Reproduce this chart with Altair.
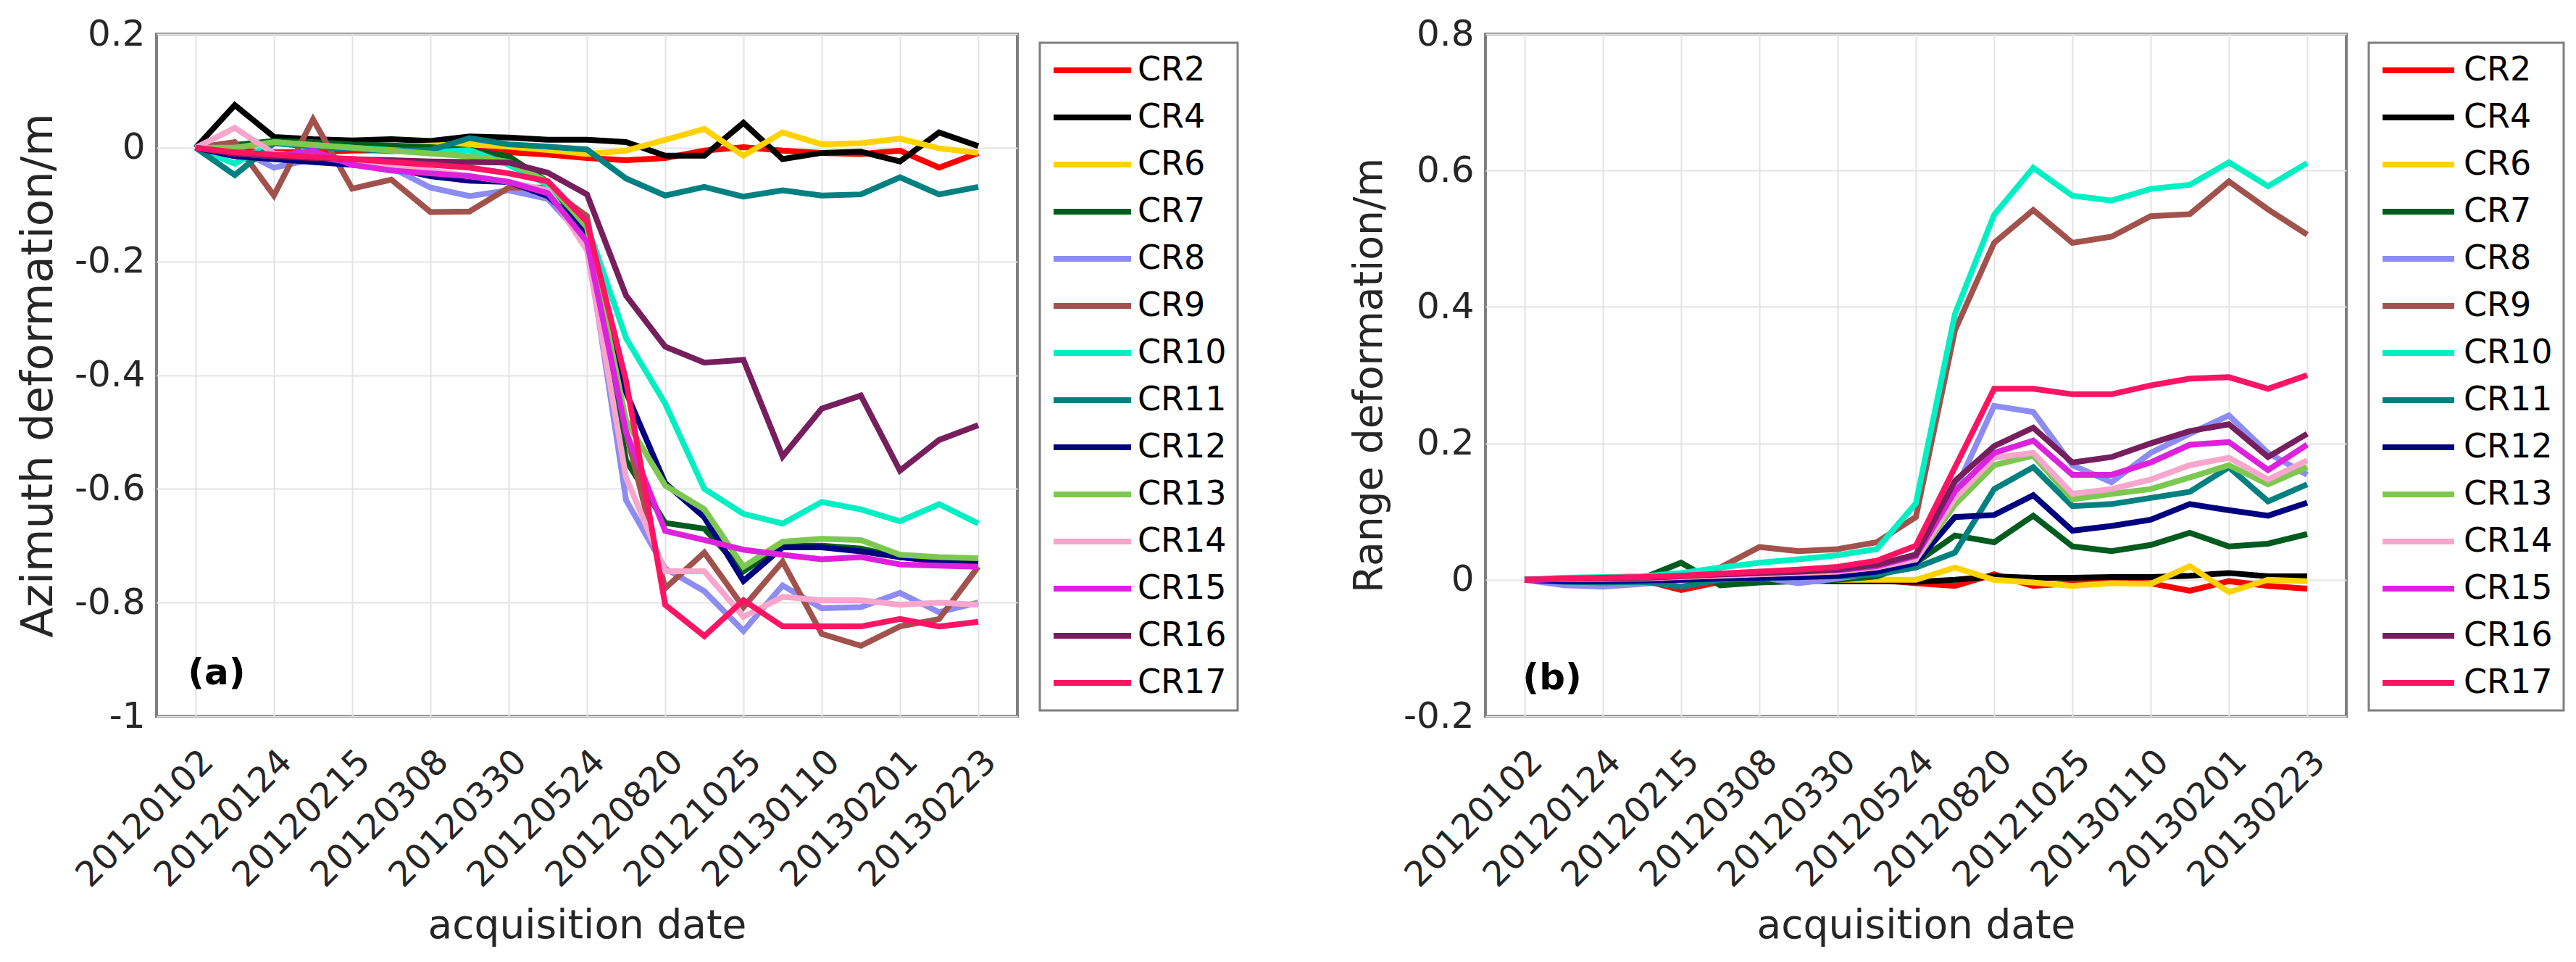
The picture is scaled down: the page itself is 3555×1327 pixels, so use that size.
import json
import altair as alt
import pandas as pd

# ---------------- data ----------------
date_labels = ["20120102", "20120124", "20120215", "20120308", "20120330", "20120524",
               "20120820", "20121025", "20130110", "20130201", "20130223"]
series_names = ["CR2", "CR4", "CR6", "CR7", "CR8", "CR9", "CR10", "CR11", "CR12",
                "CR13", "CR14", "CR15", "CR16", "CR17"]
series_colors = ["#FF0000", "#000000", "#FFD200", "#005C1E", "#8C8CF2", "#A2524C",
                 "#00F0C4", "#008080", "#000080", "#7CC850", "#F8A6CC", "#DD22DD",
                 "#761E5E", "#FF1464"]
panel_tags = ["(a)", "(b)"]

# (a) azimuth deformation, 21 acquisitions
az_cr2 = [0, -0.005, -0.008, -0.008, -0.005, -0.004, 0.0, -0.004, -0.008, -0.012, -0.018, -0.022, -0.018, -0.005, 0.001, -0.005, -0.009, -0.011, -0.005, -0.035, -0.009]
az_cr4 = [0, 0.075, 0.019, 0.015, 0.013, 0.015, 0.012, 0.02, 0.018, 0.014, 0.014, 0.01, -0.014, -0.014, 0.044, -0.02, -0.009, -0.007, -0.024, 0.027, 0.003]
az_cr6 = [0, 0.004, 0.008, 0.005, 0.004, 0.002, 0.004, 0.006, 0.002, -0.004, -0.011, -0.005, 0.014, 0.033, -0.014, 0.027, 0.006, 0.008, 0.016, -0.001, -0.009]
az_cr7 = [0, 0.005, 0.012, 0.01, 0.006, 0.004, 0.001, -0.004, -0.015, -0.06, -0.15, -0.55, -0.66, -0.67, -0.745, -0.70, -0.70, -0.705, -0.72, -0.725, -0.73]
az_cr8 = [0, 0.0, -0.035, -0.02, -0.03, -0.035, -0.07, -0.085, -0.075, -0.09, -0.165, -0.62, -0.74, -0.78, -0.85, -0.77, -0.81, -0.808, -0.783, -0.817, -0.80]
az_cr9 = [0, 0.01, -0.084, 0.05, -0.072, -0.056, -0.113, -0.112, -0.07, -0.07, -0.12, -0.5, -0.775, -0.712, -0.808, -0.728, -0.855, -0.876, -0.842, -0.829, -0.737]
az_cr10 = [0, -0.028, 0.01, 0.005, 0.0, -0.004, -0.008, -0.004, -0.03, -0.065, -0.135, -0.335, -0.45, -0.6, -0.644, -0.661, -0.623, -0.636, -0.657, -0.627, -0.661]
az_cr11 = [0, -0.048, 0.008, 0.002, -0.002, -0.006, -0.004, 0.017, 0.006, 0.002, -0.003, -0.054, -0.084, -0.069, -0.086, -0.075, -0.084, -0.082, -0.052, -0.082, -0.069]
az_cr12 = [0, -0.015, -0.02, -0.025, -0.03, -0.035, -0.05, -0.058, -0.06, -0.085, -0.147, -0.43, -0.59, -0.65, -0.762, -0.703, -0.703, -0.71, -0.72, -0.728, -0.728]
az_cr13 = [0, 0.0, 0.01, 0.005, 0.0, -0.005, -0.01, -0.015, -0.025, -0.06, -0.14, -0.48, -0.594, -0.636, -0.737, -0.693, -0.688, -0.69, -0.716, -0.72, -0.722]
az_cr14 = [0, 0.035, -0.01, -0.015, -0.025, -0.03, -0.04, -0.05, -0.06, -0.075, -0.18, -0.58, -0.745, -0.745, -0.825, -0.79, -0.796, -0.796, -0.804, -0.8, -0.804]
az_cr15 = [0, -0.01, -0.015, -0.005, -0.03, -0.04, -0.045, -0.05, -0.06, -0.08, -0.165, -0.5, -0.674, -0.69, -0.707, -0.716, -0.724, -0.72, -0.733, -0.735, -0.737]
az_cr16 = [0, -0.01, -0.015, -0.018, -0.02, -0.022, -0.024, -0.025, -0.026, -0.044, -0.082, -0.26, -0.35, -0.378, -0.373, -0.543, -0.459, -0.436, -0.568, -0.514, -0.488]
az_cr17 = [0, -0.008, -0.012, -0.016, -0.02, -0.025, -0.03, -0.035, -0.045, -0.059, -0.13, -0.41, -0.804, -0.859, -0.796, -0.842, -0.842, -0.842, -0.829, -0.842, -0.834]

# (b) range deformation
rg_cr2 = [0, 0.0, 0.001, 0.0, -0.015, -0.003, 0.0, -0.002, -0.001, 0.0, -0.005, -0.009, 0.008, -0.009, -0.005, -0.003, -0.005, -0.016, -0.002, -0.009, -0.013]
rg_cr4 = [0, 0.0, 0.0, 0.0, 0.0, 0.0, 0.0, -0.001, -0.002, -0.002, -0.003, 0.0, 0.005, 0.003, 0.003, 0.004, 0.004, 0.006, 0.01, 0.005, 0.005]
rg_cr6 = [0, 0.0, 0.001, 0.0, 0.0, 0.001, 0.0, 0.0, 0.0, 0.0, 0.0, 0.018, 0.0, -0.004, -0.009, -0.005, -0.006, 0.02, -0.018, 0.0, -0.002]
rg_cr7 = [0, 0.0, 0.0, 0.002, 0.025, -0.008, -0.004, -0.002, 0.0, 0.005, 0.025, 0.065, 0.055, 0.094, 0.049, 0.042, 0.051, 0.069, 0.049, 0.053, 0.067]
rg_cr8 = [0, -0.008, -0.01, -0.006, 0.0, 0.002, 0.004, -0.005, 0.002, 0.01, 0.03, 0.13, 0.255, 0.246, 0.168, 0.143, 0.186, 0.214, 0.241, 0.186, 0.154]
rg_cr9 = [0, 0.002, 0.002, 0.003, 0.006, 0.018, 0.048, 0.042, 0.045, 0.055, 0.092, 0.366, 0.494, 0.542, 0.494, 0.503, 0.533, 0.536, 0.584, 0.543, 0.506]
rg_cr10 = [0, 0.003, 0.004, 0.005, 0.01, 0.018, 0.025, 0.03, 0.036, 0.045, 0.112, 0.39, 0.535, 0.604, 0.563, 0.556, 0.573, 0.579, 0.612, 0.577, 0.611]
rg_cr11 = [0, -0.003, -0.004, -0.003, -0.01, 0.0, 0.002, 0.004, 0.005, 0.008, 0.018, 0.04, 0.133, 0.165, 0.108, 0.111, 0.12, 0.129, 0.165, 0.115, 0.14]
rg_cr12 = [0, -0.002, -0.002, -0.001, 0.0, 0.002, 0.003, 0.004, 0.006, 0.012, 0.025, 0.092, 0.095, 0.124, 0.072, 0.079, 0.088, 0.111, 0.102, 0.094, 0.113]
rg_cr13 = [0, 0.002, 0.003, 0.004, 0.006, 0.008, 0.01, 0.012, 0.014, 0.02, 0.03, 0.11, 0.168, 0.182, 0.118, 0.126, 0.133, 0.15, 0.168, 0.14, 0.165]
rg_cr14 = [0, 0.001, 0.001, 0.002, 0.004, 0.006, 0.008, 0.01, 0.012, 0.018, 0.03, 0.12, 0.179, 0.186, 0.126, 0.133, 0.147, 0.168, 0.179, 0.147, 0.175]
rg_cr15 = [0, 0.001, 0.002, 0.003, 0.006, 0.008, 0.01, 0.012, 0.014, 0.02, 0.035, 0.13, 0.186, 0.204, 0.154, 0.154, 0.172, 0.198, 0.202, 0.161, 0.198]
rg_cr16 = [0, 0.002, 0.002, 0.003, 0.005, 0.008, 0.01, 0.012, 0.015, 0.022, 0.037, 0.145, 0.196, 0.223, 0.172, 0.18, 0.2, 0.218, 0.228, 0.18, 0.214]
rg_cr17 = [0, 0.002, 0.003, 0.004, 0.006, 0.009, 0.012, 0.015, 0.019, 0.028, 0.05, 0.165, 0.28, 0.28, 0.272, 0.272, 0.285, 0.295, 0.297, 0.28, 0.3]

azimuth = [az_cr2, az_cr4, az_cr6, az_cr7, az_cr8, az_cr9, az_cr10, az_cr11, az_cr12,
           az_cr13, az_cr14, az_cr15, az_cr16, az_cr17]
range_def = [rg_cr2, rg_cr4, rg_cr6, rg_cr7, rg_cr8, rg_cr9, rg_cr10, rg_cr11, rg_cr12,
             rg_cr13, rg_cr14, rg_cr15, rg_cr16, rg_cr17]


def long_df(arrays):
    rows = []
    for k, (name, vals) in enumerate(zip(series_names, arrays)):
        for i, v in enumerate(vals):
            rows.append({"idx": i, "value": v, "series": name, "k": k})
    return pd.DataFrame(rows)


FONT = "DejaVu Sans"
TXT = "#262626"
label_expr_x = json.dumps(date_labels) + "[round(datum.value/2)]"
label_expr_y = ("replace((datum.value < -1e-9 ? '-' : '') + "
                "format(abs(datum.value), '.1f'), '.0', '')")

PW, PH = 1188, 941


def panel(df, ytitle, ytitle_size, ydomain, yvals, tag, tag_x, tag_y, sym_len, lab_off):
    x = alt.X("idx:Q",
              scale=alt.Scale(domain=[-1, 21], nice=False, zero=False),
              axis=alt.Axis(values=list(range(0, 21, 2)), labelExpr=label_expr_x,
                            labelAngle=-45, labelAlign="right", labelBaseline="top",
                            labelPadding=38, labelFontSize=48, labelLimit=0,
                            title="acquisition date", titleFontSize=55,
                            titleY=262, titleBaseline="top",
                            grid=True, ticks=False, domain=False,
                            labelOverlap=False))
    y = alt.Y("value:Q",
              scale=alt.Scale(domain=ydomain, nice=False, zero=False),
              axis=alt.Axis(values=yvals, labelExpr=label_expr_y, title=ytitle,
                            titleFontSize=ytitle_size,
                            labelPadding=16, titlePadding=18, grid=True, ticks=False,
                            domain=False, labelFontSize=50))
    color = alt.Color("series:N",
                      scale=alt.Scale(domain=series_names, range=series_colors),
                      sort=series_names,
                      legend=alt.Legend(title=None, orient="none", legendX=1219,
                                        legendY=12, symbolType="stroke",
                                        symbolSize=sym_len * sym_len,
                                        symbolStrokeWidth=8, labelFont=FONT,
                                        labelFontSize=46, labelColor="#000000",
                                        strokeColor="#7F7F7F", fillColor="#FFFFFF",
                                        padding=15, rowPadding=19, clipHeight=46,
                                        labelOffset=lab_off, symbolLimit=0,
                                        labelLimit=0))
    lines = alt.Chart(df).mark_line(strokeWidth=8, strokeJoin="miter").encode(
        x=x, y=y, color=color, order=alt.Order("idx:Q"))
    tag_df = pd.DataFrame({"idx": [tag_x], "value": [tag_y], "t": [tag]})
    text = alt.Chart(tag_df).mark_text(font=FONT, fontSize=50, fontWeight="bold",
                                       align="left", baseline="middle",
                                       color="#000000").encode(
        x="idx:Q", y="value:Q", text="t:N")
    return alt.layer(lines, text).properties(width=PW, height=PH)


chart_a = panel(long_df(azimuth), "Azimuth deformation/m", 61, [-1, 0.2],
                [-1, -0.8, -0.6, -0.4, -0.2, 0, 0.2], panel_tags[0], -0.2, -0.925,
                107, 5)
chart_b = panel(long_df(range_def), "Range deformation/m", 55, [-0.2, 0.8],
                [-0.2, 0, 0.2, 0.4, 0.6, 0.8], panel_tags[1], -0.05, -0.145,
                99, 9)

chart = alt.hconcat(chart_a, chart_b, spacing=646, bounds="flush").resolve_scale(
    color="independent").resolve_legend(color="independent").properties(
    padding={"left": 12, "top": 12, "right": 0, "bottom": 0}
).configure_view(stroke="#7F7F7F", strokeWidth=4).configure_axis(
    labelFont=FONT, titleFont=FONT, labelColor=TXT, titleColor=TXT,
    titleFontWeight="normal", gridColor="#E4E4E4", gridWidth=2
).configure_legend(strokeWidth=3)

chart.save("out.html", embed_options={"renderer": "svg", "actions": False})
